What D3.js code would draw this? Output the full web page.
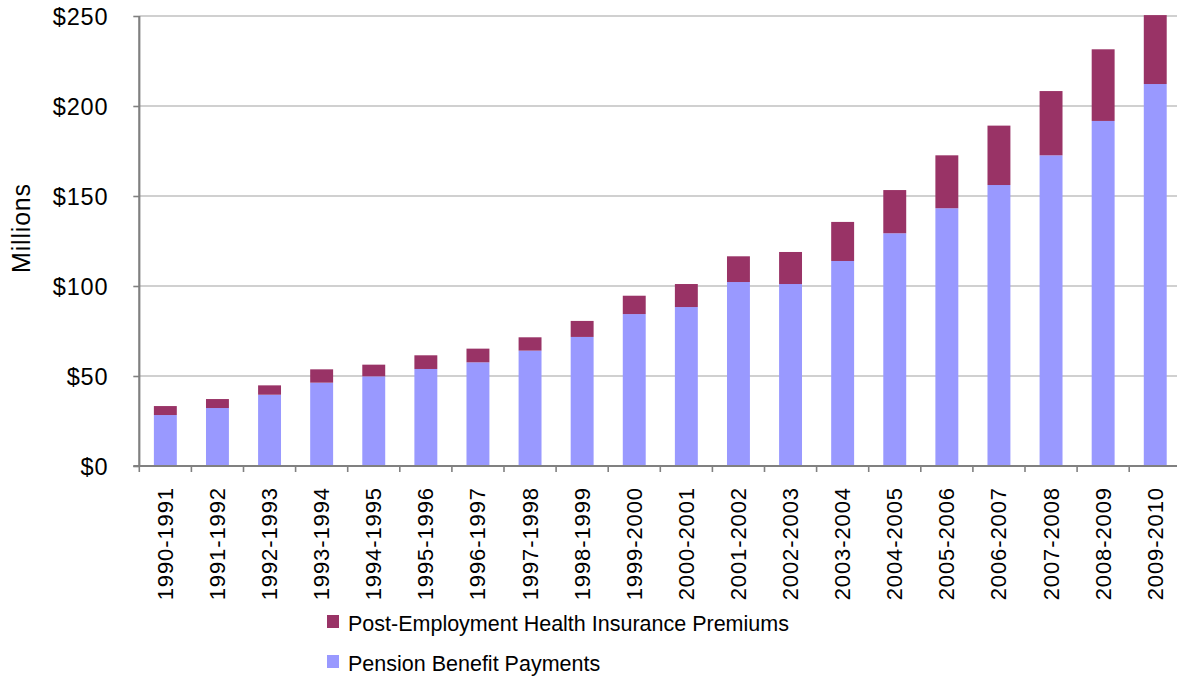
<!DOCTYPE html>
<html>
<head>
<meta charset="utf-8">
<script src="https://cdn.jsdelivr.net/npm/d3@7"></script>
<style>
  html, body { margin: 0; padding: 0; background: #ffffff; }
  svg { display: block; font-family: "Liberation Sans", Arial, sans-serif; }
</style>
</head>
<body>
<svg id="chart" width="1177" height="678"></svg>
<script>
// Fiscal years
const years = ["1990-1991","1991-1992","1992-1993","1993-1994","1994-1995","1995-1996",
  "1996-1997","1997-1998","1998-1999","1999-2000","2000-2001","2001-2002","2002-2003",
  "2003-2004","2004-2005","2005-2006","2006-2007","2007-2008","2008-2009","2009-2010"];

// Pension Benefit Payments ($ millions)
const pension = [28.3, 32.2, 39.6, 46.3, 49.8, 53.9, 57.6, 64.1, 71.7, 84.4,
  88.3, 102.2, 101.1, 113.9, 129.3, 143.2, 156.1, 172.6, 191.7, 212.2];

// Post-Employment Health Insurance Premiums ($ millions)
const health = [5.0, 5.0, 5.2, 7.4, 6.5, 7.6, 7.6, 7.4, 8.9, 10.2,
  12.8, 14.3, 17.8, 21.7, 24.0, 29.4, 33.0, 35.7, 39.8, 38.3];

const yTicks = [0, 50, 100, 150, 200, 250];
const seriesNames = ["Post-Employment Health Insurance Premiums", "Pension Benefit Payments"];
const colors = { pension: "#9999ff", health: "#993366" };

const rows = years.map((yr, i) => ({ year: yr, pension: pension[i], health: health[i] }));

const svg = d3.select("#chart");
const plotLeft = 139.3, step = 52.1, plotTop = 16, plotBottom = 466;
const plotRight = plotLeft + step * years.length;

const x = d3.scaleBand().domain(years).range([plotLeft, plotRight])
  .paddingInner(0.56).paddingOuter(0.28);
const y = d3.scaleLinear().domain([0, 250]).range([plotBottom, plotTop]);

// Horizontal gridlines
svg.append("g").selectAll("line").data(yTicks.filter(d => d > 0)).join("line")
  .attr("x1", plotLeft).attr("x2", 1177)
  .attr("y1", d => y(d)).attr("y2", d => y(d))
  .attr("stroke", "#c0c0c0").attr("stroke-width", 1.6);

// Stacked bars
const stack = d3.stack().keys(["pension", "health"])(rows);
svg.append("g").selectAll("g").data(stack).join("g")
  .attr("fill", d => colors[d.key])
  .selectAll("rect").data(d => d).join("rect")
  .attr("x", d => x(d.data.year))
  .attr("width", x.bandwidth())
  .attr("y", d => y(d[1]))
  .attr("height", d => y(d[0]) - y(d[1]));

// Y axis
const yAxis = svg.append("g").attr("transform", `translate(${plotLeft},0)`)
  .call(d3.axisLeft(y).tickValues(yTicks).tickSize(6).tickFormat(d => "$" + d));
yAxis.select(".domain").attr("stroke", "#808080").attr("stroke-width", 2.2)
  .attr("d", `M0,${plotTop}V${plotBottom}`);
yAxis.selectAll(".tick line").attr("stroke", "#808080").attr("stroke-width", 1.6);
yAxis.selectAll(".tick text").attr("x", -31).attr("dy", "0.36em")
  .attr("fill", "#000").style("font-size", "23.5px").style("letter-spacing", "0.8px")
  .style("font-family", "'Liberation Sans', Arial, sans-serif");

// X axis with ticks at category boundaries
const xAxisG = svg.append("g");
xAxisG.append("line").attr("x1", plotLeft - 6).attr("x2", 1177)
  .attr("y1", plotBottom).attr("y2", plotBottom)
  .attr("stroke", "#808080").attr("stroke-width", 2.2);
xAxisG.selectAll("line.bt").data(d3.range(years.length + 1)).join("line")
  .attr("class", "bt")
  .attr("x1", i => plotLeft + i * x.step()).attr("x2", i => plotLeft + i * x.step())
  .attr("y1", plotBottom).attr("y2", plotBottom + 6)
  .attr("stroke", "#808080").attr("stroke-width", 1.6);
xAxisG.selectAll("text").data(years).join("text")
  .attr("transform", d => `translate(${x(d) + x.bandwidth() / 2 + 7.5},${plotBottom + 21}) rotate(-90)`)
  .attr("text-anchor", "end")
  .style("font-size", "22px").style("letter-spacing", "0.9px")
  .attr("fill", "#000").text(d => d);

// Y axis title
svg.append("text")
  .attr("transform", `translate(30,${(plotTop + plotBottom) / 2 - 13}) rotate(-90)`)
  .attr("text-anchor", "middle").style("font-size", "25px").style("letter-spacing", "0.8px")
  .attr("fill", "#000").text("Millions");

// Legend
const legend = svg.append("g").attr("transform", "translate(327,615)");
const legendItems = [
  { name: seriesNames[0], color: colors.health },
  { name: seriesNames[1], color: colors.pension }
];
const li = legend.selectAll("g").data(legendItems).join("g")
  .attr("transform", (d, i) => `translate(0,${i * 40})`);
li.append("rect").attr("width", 12).attr("height", 13).attr("fill", d => d.color);
li.append("text").attr("x", 21).attr("y", 16)
  .style("font-size", "21.5px").attr("fill", "#000").text(d => d.name);
</script>
</body>
</html>
